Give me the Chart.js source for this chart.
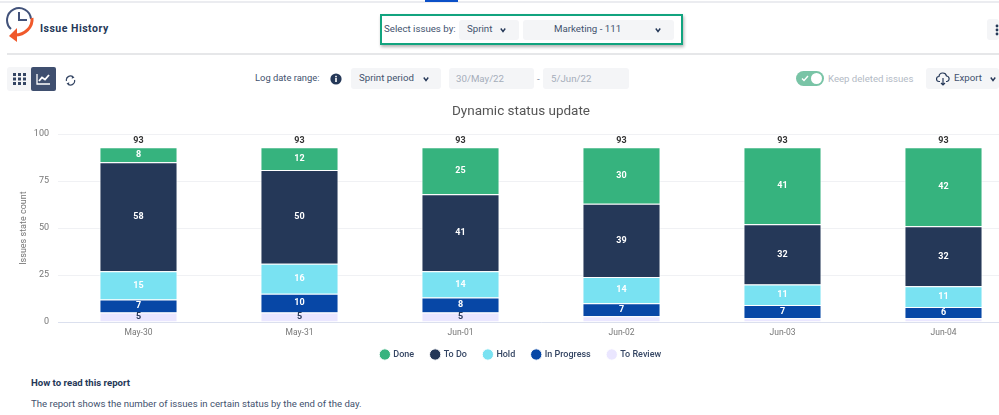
<!DOCTYPE html>
<html>
<head>
<meta charset="utf-8">
<title>Issue History</title>
<script src="https://cdn.jsdelivr.net/npm/chart.js@4"></script>
<style>
  html, body { margin: 0; padding: 0; background: #fff; overflow: hidden; }
  body { width: 999px; height: 415px; position: relative; font-family: Roboto, sans-serif; color: #42526e; }
  .abs { position: absolute; white-space: nowrap; }
  .txt { font-size: 9.7px; line-height: 14px; }
  .pill { position: absolute; background: #f4f5f7; border-radius: 3px; }
  .chev { position: absolute; width: 6px; height: 6px; }
  #chartBox { position: absolute; left: 0; top: 98px; width: 1034px; height: 275px; }
</style>
</head>
<body>
  <div class="abs" style="left:0;top:1px;width:999px;height:2px;background:#ebecf0"></div>
  <div class="abs" style="left:425px;top:0;width:33px;height:2px;background:#0b50c8"></div>

  <svg class="abs" style="left:5px;top:7px" width="30" height="37" viewBox="0 0 30 37">
    <path d="M6 22 A12 12 0 1 1 26 12" fill="none" stroke="#42527a" stroke-width="2"/>
    <path d="M14 5 V13 H22" fill="none" stroke="#42527a" stroke-width="2"/>
    <path d="M27 11 C28 20 20 28 10 28" fill="none" stroke="#f0592b" stroke-width="3"/>
    <path d="M4 29 L12 21 V35 Z" fill="#f0592b"/>
  </svg>
  <div class="abs" style="left:40px;top:21px;font-size:10.5px;line-height:15px;font-weight:700;letter-spacing:.5px;color:#253858">Issue History</div>
  <div class="abs" style="left:7px;top:53px;width:992px;height:2px;background:#e6e7e9"></div>

  <div class="abs" style="left:380px;top:14px;width:299px;height:27px;border:2px solid #12a47f;box-shadow:1px 2px 3px rgba(0,0,0,.3)"></div>
  <div class="abs txt" style="left:384px;top:22px">Select issues by:</div>
  <div class="pill" style="left:459px;top:20px;width:60px;height:20px"></div>
  <div class="abs txt" style="left:467px;top:22px">Sprint</div>
  <div class="pill" style="left:523px;top:20px;width:151px;height:20px"></div>
  <div class="abs txt" style="left:554px;top:22px">Marketing - 111</div>
  <svg class="chev" style="left:500px;top:27px" viewBox="0 0 8 8"><path d="M1 2 L4 6 L7 2" fill="none" stroke="#253858" stroke-width="1.8"/></svg>
  <svg class="chev" style="left:655px;top:27px" viewBox="0 0 8 8"><path d="M1 2 L4 6 L7 2" fill="none" stroke="#253858" stroke-width="1.8"/></svg>
  <div class="pill" style="left:987px;top:19px;width:12px;height:21px"></div>
  <svg class="abs" style="left:995px;top:24px" width="4" height="12"><circle cx="2" cy="2" r="1.4" fill="#253858"/><circle cx="2" cy="6" r="1.4" fill="#253858"/><circle cx="2" cy="10" r="1.4" fill="#253858"/></svg>

  <div class="pill" style="left:7px;top:67px;width:25px;height:24px"></div>
  <svg class="abs" style="left:13px;top:73px" width="13" height="12"><g fill="#344563"><rect x="0" y="0" width="3" height="3"/><rect x="5" y="0" width="3" height="3"/><rect x="10" y="0" width="3" height="3"/><rect x="0" y="4.5" width="3" height="3"/><rect x="5" y="4.5" width="3" height="3"/><rect x="10" y="4.5" width="3" height="3"/><rect x="0" y="9" width="3" height="3"/><rect x="5" y="9" width="3" height="3"/><rect x="10" y="9" width="3" height="3"/></g></svg>
  <div class="abs" style="left:31px;top:67px;width:25px;height:24px;background:#3f4f6f;border-radius:2px"></div>
  <svg class="abs" style="left:36px;top:73px" width="15" height="12"><path d="M1 1 V11 H14" fill="none" stroke="#fff" stroke-width="1.3"/><path d="M3 8 L6 4.5 L9 6.5 L13 2" fill="none" stroke="#fff" stroke-width="1.8"/></svg>
  <svg class="abs" style="left:65px;top:75px" width="11" height="11" viewBox="0 0 11 11"><path d="M1.5 6 A4 4 0 0 1 8 2 M9.5 5 A4 4 0 0 1 3 9" fill="none" stroke="#344563" stroke-width="1.2"/><path d="M7 .5 L9.5 2.5 L6.8 3.8 Z M4 10.5 L1.5 8.5 L4.2 7.2 Z" fill="#344563"/></svg>

  <div class="abs txt" style="left:255px;top:71px;font-size:9.4px">Log date range:</div>
  <svg class="abs" style="left:330px;top:73px" width="12" height="12"><circle cx="6" cy="6" r="5.6" fill="#253858"/><rect x="5.2" y="5" width="1.6" height="4" fill="#fff"/><rect x="5.2" y="2.8" width="1.6" height="1.5" fill="#fff"/></svg>
  <div class="pill" style="left:351px;top:68px;width:90px;height:21px"></div>
  <div class="abs txt" style="left:359px;top:71px">Sprint period</div>
  <svg class="chev" style="left:423px;top:76px" viewBox="0 0 8 8"><path d="M1 2 L4 6 L7 2" fill="none" stroke="#253858" stroke-width="1.8"/></svg>
  <div class="pill" style="left:449px;top:68px;width:85px;height:21px"></div>
  <div class="abs txt" style="left:456px;top:72px;color:#a5adba">30/May/22</div>
  <div class="abs txt" style="left:537px;top:72px;color:#7a869a">-</div>
  <div class="pill" style="left:543px;top:68px;width:86px;height:21px"></div>
  <div class="abs txt" style="left:551px;top:72px;color:#a5adba">5/Jun/22</div>

  <div class="abs" style="left:796px;top:71px;width:28px;height:15px;border-radius:8px;background:#79c4a6"></div>
  <div class="abs" style="left:811px;top:73px;width:11px;height:11px;border-radius:50%;background:#fff"></div>
  <svg class="abs" style="left:801px;top:75px" width="8" height="7"><path d="M1 3.5 L3 5.5 L7 1" fill="none" stroke="#fff" stroke-width="1.4"/></svg>
  <div class="abs txt" style="left:828px;top:72px;color:#b3bac5;font-size:9.6px">Keep deleted issues</div>
  <div class="pill" style="left:926px;top:68px;width:73px;height:21px"></div>
  <svg class="abs" style="left:936px;top:72px" width="14" height="14" viewBox="0 0 14 14"><path d="M4 9.5 H3 A2.5 2.5 0 0 1 3 4.5 A3.8 3.8 0 0 1 10.5 4 A2.8 2.8 0 0 1 11 9.5 H10" fill="none" stroke="#253858" stroke-width="1.2"/><path d="M7 6 V13 M5 11 L7 13 L9 11" fill="none" stroke="#253858" stroke-width="1.2"/></svg>
  <div class="abs txt" style="left:954px;top:71px">Export</div>
  <svg class="chev" style="left:990px;top:76px" viewBox="0 0 8 8"><path d="M1 2 L4 6 L7 2" fill="none" stroke="#253858" stroke-width="1.8"/></svg>

  <div id="chartBox"><canvas id="myChart" width="1034" height="275"></canvas></div>

  <div class="abs" style="left:31px;top:376px;font-size:9.6px;line-height:13px;font-weight:700;color:#253858">How to read this report</div>
  <div class="abs" style="left:31px;top:397px;font-size:9.6px;line-height:13px">The report shows the number of issues in certain status by the end of the day.</div>

<script>
const categories = ['May-30', 'May-31', 'Jun-01', 'Jun-02', 'Jun-03', 'Jun-04'];
const toReview = [5, 5, 5, 3, 2, 2];
const inProgress = [7, 10, 8, 7, 7, 6];
const hold = [15, 16, 14, 14, 11, 11];
const toDo = [58, 50, 41, 39, 32, 32];
const done = [8, 12, 25, 30, 41, 42];
const totals = [93, 93, 93, 93, 93, 93];
const yTicks = [0, 25, 50, 75, 100];

const barLabels = {
  id: 'barLabels',
  // legend sits a bit closer to the axis than the default layout puts it
  afterLayout(chart) {
    chart.legend.top -= 4;
    chart.legend.bottom -= 4;
  },
  afterDatasetsDraw(chart) {
    const ctx = chart.ctx;
    ctx.save();
    ctx.textAlign = 'center';
    ctx.textBaseline = 'middle';
    ctx.font = '700 9px Roboto';
    // value in the middle of each segment, small ones have no room
    chart.data.datasets.forEach((ds, i) => {
      chart.getDatasetMeta(i).data.forEach((bar, j) => {
        if (ds.data[j] < 5) return;
        const p = bar.getProps(['x', 'y', 'base'], true);
        ctx.fillStyle = ds.label === 'To Review' ? '#253858' : '#fff';
        ctx.fillText(ds.data[j], p.x, (p.y + p.base) / 2);
      });
    });
    // total above the stack
    ctx.fillStyle = '#333';
    totals.forEach((t, j) => {
      ctx.fillText(t, chart.scales.x.getPixelForValue(j), chart.scales.y.getPixelForValue(t) - 7);
    });
    ctx.restore();
  }
};

function makeSet(label, data, color) {
  return { label, data, backgroundColor: color, borderColor: '#fff', borderWidth: 1, barPercentage: 0.97, categoryPercentage: 0.5 };
}

new Chart(document.getElementById('myChart'), {
  type: 'bar',
  data: {
    labels: categories,
    datasets: [
      makeSet('To Review', toReview, '#eae6ff'),
      makeSet('In Progress', inProgress, '#0747a6'),
      makeSet('Hold', hold, '#79e2f2'),
      makeSet('To Do', toDo, '#253858'),
      makeSet('Done', done, '#36b37e'),
    ],
  },
  options: {
    responsive: false,
    animation: false,
    layout: { padding: { left: 18, right: 10, bottom: 0 } },
    scales: {
      x: {
        stacked: true,
        afterFit(axis) { axis.height = 15; },
        grid: { display: false, drawTicks: false },
        border: { color: '#dbe0ee', width: 1 },
        ticks: { color: '#777', font: { family: 'Roboto', size: 8.5 }, padding: 6 },
      },
      y: {
        stacked: true,
        min: 0,
        max: 100,
        afterBuildTicks(axis) { axis.ticks = yTicks.map((v) => ({ value: v })); },
        afterFit(axis) { axis.width = 40; },
        grid: { color: '#f0f1f4', drawTicks: false },
        border: { display: false },
        ticks: { color: '#777', font: { family: 'Roboto', size: 9 }, padding: 9 },
        title: { display: true, text: 'Issues state count', color: '#777', font: { family: 'Roboto', size: 9 }, padding: 0 },
      },
    },
    plugins: {
      title: {
        display: true,
        text: 'Dynamic status update',
        color: '#555',
        font: { family: 'Roboto', size: 13.5, weight: 'normal' },
        padding: { top: 6, bottom: 14 },
      },
      legend: {
        position: 'bottom',
        reverse: true,
        labels: {
          usePointStyle: true,
          pointStyle: 'circle',
          boxWidth: 8,
          boxHeight: 8,
          padding: 17,
          color: '#344563',
          font: { family: 'Roboto', size: 9, weight: '500' },
        },
      },
      tooltip: { enabled: false },
    },
  },
  plugins: [barLabels],
});
</script>
</body>
</html>
